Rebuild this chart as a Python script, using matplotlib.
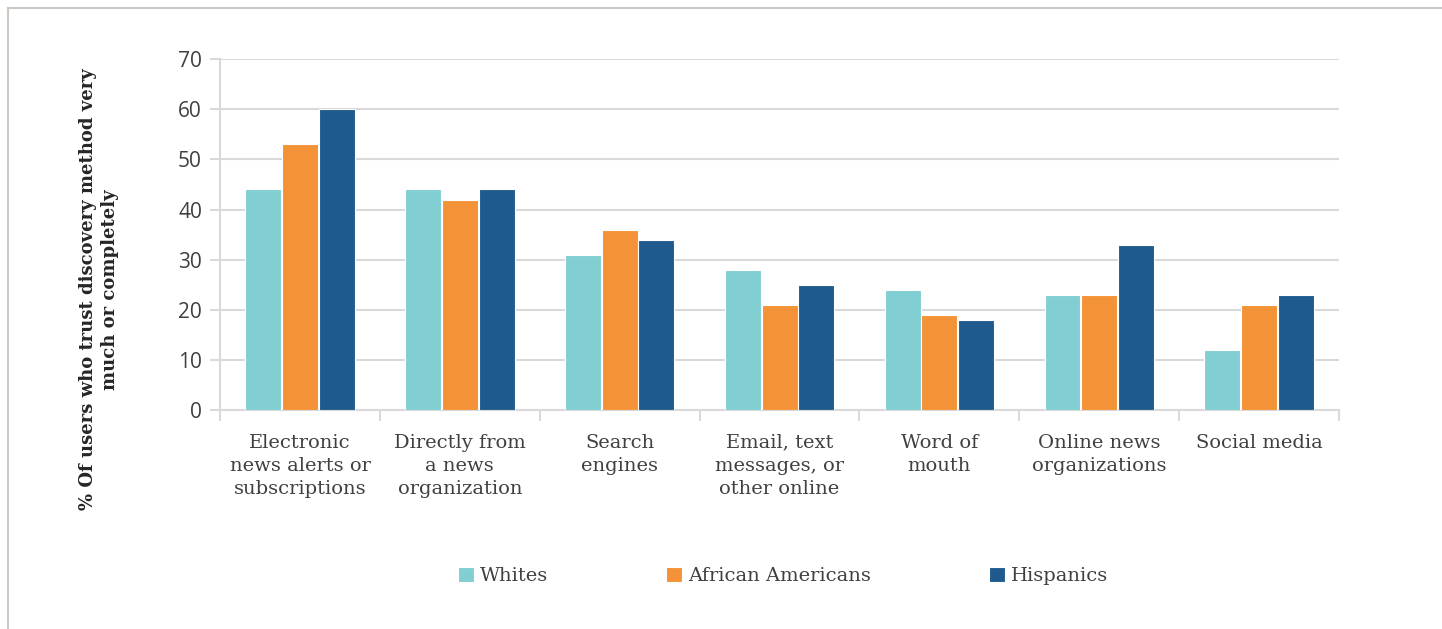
import numpy as np
import matplotlib.pyplot as plt
from matplotlib.lines import Line2D

### Data
categories = ['Electronic\nnews alerts or\nsubscriptions', 'Directly from\na news\norganization',
              'Search\nengines', 'Email, text\nmessages, or\nother online', 'Word of\nmouth',
              'Online news\norganizations', 'Social media']
whites = [44, 44, 31, 28, 24, 23, 12]
african_americans = [53, 42, 36, 21, 19, 23, 21]
hispanics = [60, 44, 34, 25, 18, 33, 23]
series = ['Whites', 'African Americans', 'Hispanics']
colors = ['#81cfd2', '#f39237', '#1e5a8e']

serif = 'DejaVu Serif'
grid = '#d9d9d9'

### Plot
fig = plt.figure(figsize=(14.42, 6.29), dpi=100)
ax = fig.add_axes([0.1526, 0.348, 0.776, 0.558])

x = np.arange(len(categories))
w = 0.225
for k, (vals, name) in enumerate(zip([whites, african_americans, hispanics], series)):
    ax.bar(x + (k - 1) * (w + 0.005), vals, w, color=colors[k], edgecolor='white',
           linewidth=0.8, label=name, zorder=3)

ax.set_xlim(-0.5, len(categories) - 0.5)
ax.set_ylim(0, 70)
ax.set_yticks(np.arange(0, 71, 10))
ax.yaxis.grid(True, color=grid, linewidth=1.5, zorder=0)
ax.tick_params(axis='y', length=7, color=grid, width=1.5, labelsize=15,
               labelcolor='#404040', pad=6)
for lab in ax.get_yticklabels():
    lab.set_family('Open Sans')

ax.set_xticks(x)
ax.set_xticklabels(categories, family=serif, fontsize=14, color='#404040', linespacing=1.35)
ax.tick_params(axis='x', length=0, pad=17)
ax.set_xticks(np.arange(-0.5, len(categories)), minor=True)
ax.tick_params(axis='x', which='minor', length=8, color=grid, width=1.5)

for s in ['top', 'right']:
    ax.spines[s].set_visible(False)
ax.spines['left'].set_color(grid)
ax.spines['left'].set_linewidth(1.5)
ax.spines['bottom'].set_color(grid)
ax.spines['bottom'].set_linewidth(1.5)

fig.text(0.0685, 0.54, '% Of users who trust discovery method very\nmuch or completely',
         rotation=90, ha='center', va='center', family=serif, fontsize=13,
         fontweight='bold', color='#262626', linespacing=1.3)

leg = fig.legend(loc='center', bbox_to_anchor=(0.543, 0.084), ncol=3, frameon=False,
                 handlelength=0.8, handleheight=0.8, handletextpad=0.3,
                 columnspacing=6.1, prop={'family': serif, 'size': 14})
for t in leg.get_texts():
    t.set_color('#404040')

### Border
fig.add_artist(Line2D([0.0055, 1], [0.987, 0.987], color='#cdc6c1', linewidth=1.5))
fig.add_artist(Line2D([0.0055, 0.0055], [0, 0.987], color='#cdc6c1', linewidth=1.5))

plt.savefig('out.png', dpi=100)
